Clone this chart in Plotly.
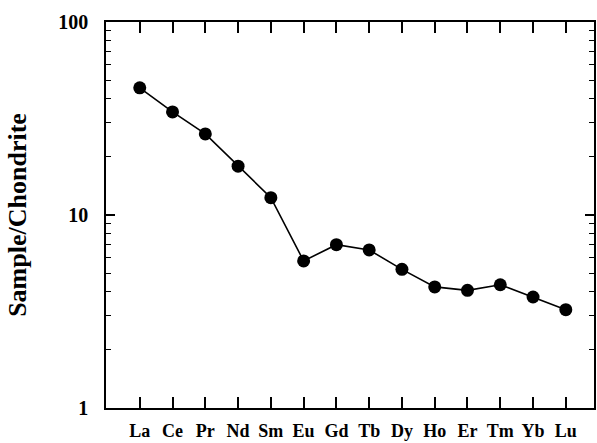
import plotly.graph_objects as go

elements = ["La", "Ce", "Pr", "Nd", "Sm", "Eu", "Gd", "Tb", "Dy", "Ho", "Er", "Tm", "Yb", "Lu"]
values = [45.6, 34.2, 26.3, 17.9, 12.3, 5.78, 7.02, 6.59, 5.23, 4.24, 4.07, 4.35, 3.76, 3.23]
y_major = [1, 10, 100]
y_major_text = ["1", "10", "100"]
y_minor = [2, 3, 4, 5, 6, 7, 8, 9, 20, 30, 40, 50, 60, 70, 80, 90]

xpos = list(range(len(elements)))
FONT = "Liberation Serif"

fig = go.Figure()
fig.add_trace(go.Scatter(
    x=xpos, y=values, mode="lines+markers",
    line=dict(color="black", width=1.6),
    marker=dict(color="black", size=13),
    showlegend=False,
))

fig.update_layout(
    width=597, height=443,
    margin=dict(l=106, r=1, t=22, b=35),
    paper_bgcolor="white", plot_bgcolor="white",
    font=dict(family=FONT, color="black", size=18),
)
fig.update_xaxes(
    range=[-1.03, 13.86],
    tickvals=xpos, ticktext=[f"<b>{e}</b>" for e in elements],
    ticks="inside", ticklen=11, tickwidth=1.5, tickcolor="black",
    showline=True, linecolor="black", linewidth=1.5, mirror="ticks",
    showgrid=False, zeroline=False,
    tickfont=dict(family=FONT, size=18, color="black"),
    ticklabelstandoff=6,
)
fig.update_yaxes(
    type="log", range=[0, 2],
    tickvals=y_major, ticktext=[f"<b>{t}</b>" for t in y_major_text],
    ticks="inside", ticklen=9, tickwidth=2, tickcolor="black",
    minor=dict(tickvals=y_minor, ticks="inside", ticklen=5, tickwidth=1.2, tickcolor="black", showgrid=False),
    showline=True, linecolor="black", linewidth=1.5, mirror="ticks",
    showgrid=False, zeroline=False,
    tickfont=dict(family=FONT, size=20, color="black"),
    ticklabelstandoff=12,
    title=dict(text="<b>Sample/Chondrite</b>", font=dict(family=FONT, size=26, color="black"), standoff=24),
)

fig.write_html("out.html")
